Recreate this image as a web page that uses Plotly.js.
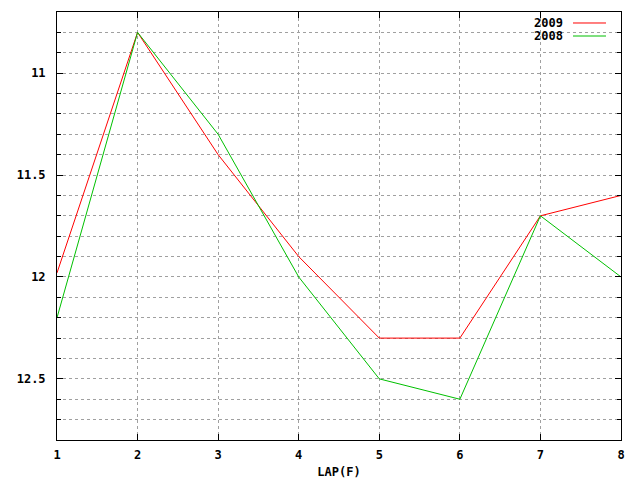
<!DOCTYPE html>
<html>
<head>
<meta charset="utf-8">
<script src="https://cdn.plot.ly/plotly-3.0.1.min.js"></script>
<style>html,body{margin:0;padding:0;background:#fff;}#chart{width:640px;height:480px;}</style>
</head>
<body>
<div id="chart"></div>
<script>
const laps = [1, 2, 3, 4, 5, 6, 7, 8];
const times2009 = [11.98, 10.8, 11.4, 11.9, 12.3, 12.3, 11.7, 11.6];
const times2008 = [12.2, 10.8, 11.3, 12.0, 12.5, 12.6, 11.7, 12.0];
const seriesNames = ['2009', '2008'];
const seriesColors = ['#ff0000', '#00c000'];

const font = {family: 'DejaVu Sans Mono, monospace', size: 12, color: '#000'};

const traces = [
  {x: laps, y: times2009, name: seriesNames[0], mode: 'lines', line: {color: seriesColors[0], width: 1}},
  {x: laps, y: times2008, name: seriesNames[1], mode: 'lines', line: {color: seriesColors[1], width: 1}}
];

const gridColor = '#a0a0a0';
const layout = {
  width: 640, height: 480,
  margin: {l: 57, r: 19, t: 12, b: 40},
  paper_bgcolor: '#fff', plot_bgcolor: '#fff',
  showlegend: false,
  font: font,
  xaxis: {
    range: [1, 8], dtick: 1, tick0: 1,
    ticks: 'inside', ticklen: 6, tickcolor: '#000', mirror: 'ticks',
    showline: true, linecolor: '#000', linewidth: 1,
    showgrid: true, gridcolor: gridColor, griddash: 'dot', gridwidth: 1,
    zeroline: false,
    tickfont: {family: font.family, size: 12, color: '#000', weight: 'bold'},
    ticklabelstandoff: 4,
    title: {text: 'LAP(F)', font: {family: font.family, size: 12, color: '#000', weight: 'bold'}, standoff: 6}
  },
  yaxis: {
    range: [12.8, 10.7], dtick: 0.5, tick0: 11,
    ticks: 'inside', ticklen: 6, tickcolor: '#000', mirror: 'ticks',
    showline: true, linecolor: '#000', linewidth: 1,
    showgrid: true, gridcolor: gridColor, griddash: 'dot', gridwidth: 1,
    zeroline: false,
    tickfont: {family: font.family, size: 12, color: '#000', weight: 'bold'},
    ticklabelstandoff: 8,
    minor: {dtick: 0.1, tick0: 11, ticks: 'inside', ticklen: 4, tickcolor: '#000', showgrid: true, gridcolor: gridColor, griddash: 'dot', gridwidth: 1}
  },
  annotations: seriesNames.map((n, i) => ({
    text: n, xref: 'paper', yref: 'paper', x: 0.9007, y: 0.9743 - i * 0.0304,
    xanchor: 'right', yanchor: 'middle', showarrow: false,
    font: {family: font.family, size: 12, color: '#000', weight: 'bold'}
  })),
  shapes: seriesNames.map((n, i) => ({
    type: 'line', xref: 'paper', yref: 'paper',
    x0: 0.9149, x1: 0.9734, y0: 0.9743 - i * 0.0304, y1: 0.9743 - i * 0.0304,
    line: {color: seriesColors[i], width: 1}
  }))
};

Plotly.newPlot('chart', traces, layout, {displayModeBar: false, staticPlot: true});
</script>
</body>
</html>
